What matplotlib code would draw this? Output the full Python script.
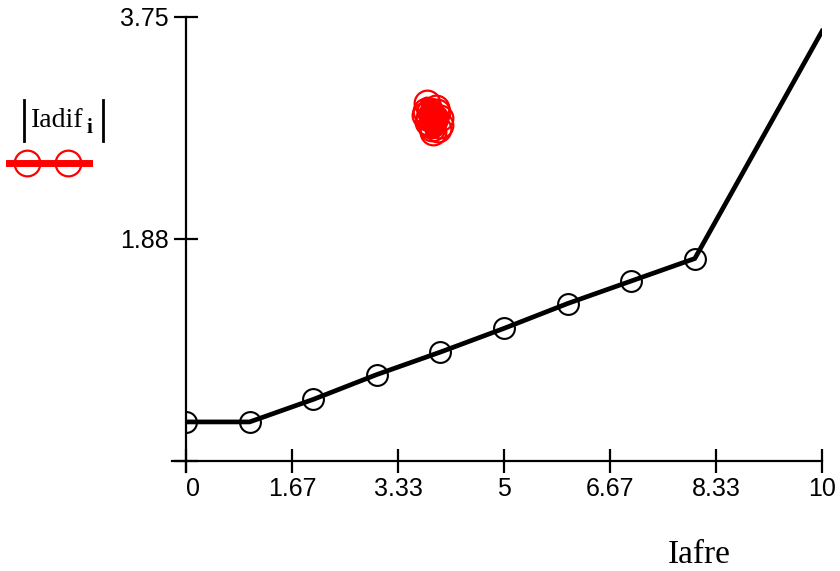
import matplotlib
matplotlib.use("Agg")
import matplotlib.pyplot as plt
from matplotlib.lines import Line2D

# Data
iafre = [0, 1, 2, 3, 4, 5, 6, 7, 8, 10]
curve = [0.33, 0.33, 0.52, 0.73, 0.92, 1.12, 1.33, 1.52, 1.71, 3.63]
red_x = [3.79, 3.84, 3.76, 3.92, 3.99, 3.87, 3.96, 3.80, 3.95, 3.90,
         3.78, 3.85, 4.00, 3.93, 3.82, 3.88]
red_y = [3.02, 2.96, 2.92, 2.90, 2.84, 2.81, 2.80, 2.86, 2.95, 2.88,
         2.96, 2.84, 2.90, 2.98, 2.90, 2.78]
x_ticks = [0, 1.667, 3.333, 5, 6.667, 8.333, 10]
x_tick_labels = ["0", "1.67", "3.33", "5", "6.67", "8.33", "10"]
y_ticks = [0, 1.875, 3.75]
y_tick_labels = ["", "1.88", "3.75"]

W, H = 840, 571
fig = plt.figure(figsize=(W / 100, H / 100), dpi=100)
L, R, T, B = 186, 822, 17, 461
ax = fig.add_axes([L / W, 1 - B / H, (R - L) / W, (B - T) / H])
ax.set_xlim(0, 10)
ax.set_ylim(0, 3.75)
for s in ax.spines.values():
    s.set_visible(False)

# black trace
ax.plot(iafre, curve, color="black", lw=3.4, marker="o", ms=15, mfc="none",
        mec="black", mew=1.5, markevery=list(range(9)), zorder=3)
# red trace
ax.plot(red_x, red_y, color="red", lw=10, marker="o", ms=18.5, mfc="none",
        mec="red", mew=1.6, zorder=4, solid_joinstyle="round",
        solid_capstyle="round")

def px(x, y):
    return x / W, 1 - y / H

# axes lines extending slightly beyond
fig.add_artist(Line2D([px(172, 0)[0], px(822, 0)[0]], [px(0, 461)[1]] * 2,
                      color="black", lw=1.6))
fig.add_artist(Line2D([px(186, 0)[0]] * 2, [px(0, 17)[1], px(0, 472)[1]],
                      color="black", lw=1.6))

ax.set_xticks(x_ticks)
ax.set_xticklabels(x_tick_labels)
ax.set_yticks(y_ticks)
ax.set_yticklabels(y_tick_labels)
ax.tick_params(axis="both", direction="inout", length=17, width=1.6,
               colors="black", labelsize=18)
ax.tick_params(axis="x", pad=3)
ax.tick_params(axis="y", pad=4)
for lab in ax.get_xticklabels() + ax.get_yticklabels():
    lab.set_fontfamily("Liberation Sans")
xl = ax.get_xticklabels()
xl[0].set_horizontalalignment("left")

# x label
fig.text(668 / W, 1 - 563 / H, "Iafre", family="Liberation Serif", fontsize=24,
         ha="left", va="baseline")

# y legend label |Iadif_i|
fig.add_artist(Line2D([px(24, 0)[0]] * 2, [px(0, 100)[1], px(0, 141)[1]],
                      color="black", lw=2))
fig.add_artist(Line2D([px(103, 0)[0]] * 2, [px(0, 100)[1], px(0, 141)[1]],
                      color="black", lw=2))
fig.text(31 / W, 1 - 127 / H, "Iadif", family="Liberation Serif", fontsize=20,
         ha="left", va="baseline")
fig.text(87 / W, 1 - 133 / H, "i", family="Liberation Serif", fontsize=15,
         fontweight="bold", ha="left", va="baseline")
fig.add_artist(Line2D([px(9, 0)[0], px(89, 0)[0]], [px(0, 163)[1]] * 2,
                      color="red", lw=5))
for cx in (27, 68):
    fig.add_artist(Line2D([px(cx, 0)[0]], [px(0, 163)[1]], marker="o", ms=18.5,
                          mfc="none", mec="red", mew=1.6, lw=0))

fig.savefig("out.png", dpi=100)
